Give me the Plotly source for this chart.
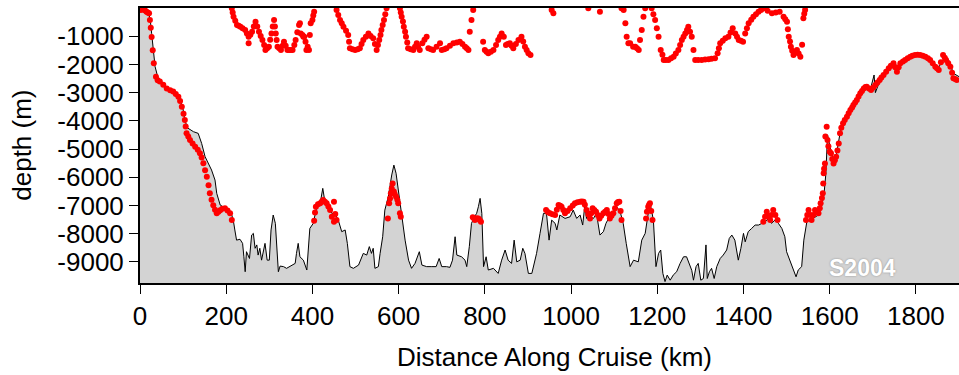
import plotly.graph_objects as go

# Bathymetry along cruise (km, m)
bathy_km = [0, 8, 15, 21, 24, 27, 31, 35, 43, 54, 66, 77, 89, 99, 104, 110, 116, 124, 135, 143,
            151, 158, 166, 174, 178, 186, 193, 205, 213, 217, 220, 224, 232, 238, 241, 244, 247, 254, 259, 263,
            267, 271, 274, 278, 282, 286, 290, 295, 300, 304, 309, 314, 317, 321, 325, 333, 340, 348, 360, 363,
            367, 371, 379, 387, 391, 394, 402, 406, 410, 418, 424, 429, 437, 445, 452, 460, 468, 476, 481, 487,
            495, 507, 514, 518, 526, 532, 537, 541, 545, 553, 557, 563, 568, 576, 584, 589, 594, 599, 607, 615,
            623, 630, 638, 648, 654, 665, 677, 687, 694, 700, 711, 719, 725, 731, 735, 746, 754, 758, 764, 769,
            776, 781, 785, 789, 793, 797, 803, 808, 820, 831, 839, 847, 854, 862, 868, 874, 882, 888, 893, 901,
            909, 920, 928, 936, 943, 949, 955, 963, 967, 974, 986, 998, 1005, 1013, 1021, 1027, 1032, 1036, 1044, 1052,
            1059, 1067, 1075, 1081, 1087, 1092, 1098, 1106, 1114, 1121, 1128, 1137, 1145, 1156, 1164, 1172, 1179, 1185, 1191, 1197,
            1203, 1208, 1213, 1218, 1223, 1230, 1237, 1245, 1253, 1261, 1268, 1274, 1280, 1284, 1290, 1295, 1301, 1307, 1313, 1316,
            1321, 1326, 1332, 1338, 1346, 1353, 1361, 1367, 1373, 1380, 1388, 1394, 1400, 1404, 1411, 1419, 1427, 1435, 1442, 1450,
            1458, 1465, 1473, 1481, 1489, 1496, 1500, 1508, 1516, 1522, 1527, 1535, 1540, 1547, 1554, 1566, 1574, 1581, 1587, 1591,
            1595, 1602, 1609, 1616, 1624, 1632, 1644, 1655, 1671, 1682, 1694, 1703, 1706, 1717, 1733, 1748, 1760, 1771, 1787, 1802,
            1818, 1833, 1849, 1863, 1876, 1887, 1900]
bathy_depth = [-80, -100, -130, -250, -450, -900, -1600, -2080, -2552, -2730, -2907, -3000, -3145, -3500, -3970, -4250, -4300, -4385, -4445, -4800,
               -5272, -5500, -5745, -6100, -6570, -6985, -7045, -7165, -7340, -7580, -7870, -8230, -8200, -8345, -8820, -9350, -8640, -8880, -8050, -7990,
               -8520, -8400, -8760, -8520, -8940, -8640, -8345, -8940, -8940, -7870, -7340, -7635, -8460, -9350, -9150, -9170, -9230, -9170, -9055, -8700,
               -8345, -8820, -8940, -9290, -8460, -7815, -7635, -7340, -7045, -6925, -6395, -6870, -6985, -7280, -7280, -7520, -7930, -7870, -8345, -9170,
               -9230, -9115, -8820, -8700, -8760, -8460, -8700, -8520, -9230, -9170, -8700, -8110, -7165, -6690, -5920, -5570, -5860, -6455, -7280, -8230,
               -8940, -9230, -9055, -8640, -9115, -9170, -9170, -9170, -8880, -9170, -9170, -9195, -8940, -8110, -8760, -8820, -8940, -9170, -8460, -7635,
               -7400, -7280, -7045, -6750, -7280, -9170, -8820, -9290, -9230, -9410, -8940, -8580, -8940, -9055, -8230, -9000, -8940, -8520, -8700, -9410,
               -9410, -8700, -7990, -7280, -7280, -8230, -7520, -7635, -7870, -7340, -7460, -7400, -7165, -7460, -7340, -7695, -6985, -7460, -7400, -7460,
               -7280, -8050, -7930, -7635, -7460, -7340, -7225, -7045, -7225, -7635, -8345, -9170, -8940, -9000, -8230, -7990, -7280, -7045, -7520, -9170,
               -8700, -8580, -9410, -9700, -9470, -9650, -9470, -9350, -9055, -8820, -8820, -9055, -9300, -9650, -9170, -9055, -9650, -9590, -8400, -9590,
               -9350, -9230, -9590, -9170, -8880, -8760, -8580, -8170, -8050, -8230, -8940, -8520, -7990, -8290, -7930, -7815, -7695, -7695, -7635, -7580,
               -7460, -7635, -7520, -7635, -7815, -8110, -8640, -8940, -9290, -9530, -9290, -9170, -8230, -7580, -7520, -7400, -7340, -7045, -6570, -5900,
               -4500, -5000, -5400, -5150, -4444, -3970, -3735, -3500, -3085, -2790, -2910, -2375, -3000, -2552, -2198, -1962, -2080, -1844, -1725, -1607,
               -1666, -1844, -2198, -1844, -1844, -2316, -2434]

# Deep red samples (near sea floor)
red_lo_km = [23, 25, 27, 29.5, 32, 37, 41, 46, 54, 62, 70, 77, 83, 89, 93, 97, 101, 104, 106, 108,
             112, 116, 122, 128, 134, 139, 143, 147, 151, 155, 159, 162, 166, 170, 174, 178, 182, 186, 191, 197,
             203, 209, 213,
             404, 406, 408, 413, 418, 422, 425, 429, 433, 437, 441, 445, 450, 450, 453, 456,
             575, 578, 580, 582, 584, 586, 589, 591, 594, 597, 599, 603, 605,
             772, 775, 777, 781, 785, 788, 791,
             942, 946, 951, 957, 963, 967, 971, 975, 978, 982, 986, 992, 998, 1004, 1009, 1015, 1021, 1025, 1029, 1032,
             1036, 1040, 1044, 1047, 1050, 1054, 1058, 1062, 1066, 1070, 1075, 1079, 1083, 1087, 1090, 1094, 1098, 1102, 1106, 1109,
             1112, 1115, 1117,
             1174, 1176, 1179, 1181, 1183, 1186, 1189,
             1446, 1450, 1454, 1458, 1462, 1465, 1469, 1474, 1479,
             1545, 1548, 1551, 1555, 1558, 1562, 1566, 1570, 1574, 1577, 1579, 1582, 1584, 1585, 1586, 1587, 1589, 1590,
             1593, 1595, 1597, 1600, 1603, 1606, 1609, 1612, 1615, 1618, 1621, 1624, 1627, 1631, 1635, 1640, 1644, 1648, 1652, 1655,
             1659, 1663, 1667, 1671, 1675, 1679, 1683, 1686, 1691, 1696, 1701, 1706, 1711, 1716, 1720, 1725, 1731, 1737, 1742, 1748,
             1752, 1756, 1760, 1764, 1770, 1775, 1781, 1787, 1792, 1798, 1804, 1810, 1816, 1822, 1828, 1833, 1839, 1845, 1849, 1853,
             1858, 1863, 1867, 1870, 1875, 1880, 1884, 1887, 1891, 1895]
red_lo_depth = [-425, -700, -1030, -1500, -1960, -2440, -2560, -2610, -2720, -2850, -2920, -2960, -3050, -3145, -3300, -3500, -3750, -3970, -4200, -4444,
                -4560, -4680, -4800, -4917, -5030, -5150, -5300, -5508, -5750, -5980, -6280, -6570, -6800, -6990, -7150, -7280, -7220, -7170, -7120, -7100,
                -7180, -7280, -7520,
                -7540, -7250, -7045, -6960, -6925, -6860, -6810, -6870, -6925, -7040, -7165, -7400, -6870, -7580, -7300, -7520,
                -7460, -6925, -6750, -6570, -6400, -6220, -6510, -6600, -6690, -6800, -6925, -7280, -7400,
                -7420, -7460, -7520, -7450, -7460, -7520, -7580,
                -7165, -7230, -7280, -7310, -7340, -7150, -6985, -7010, -7045, -7160, -7280, -7200, -7100, -7000, -6925, -6890, -6870, -6860, -6870, -6980,
                -7165, -7320, -7460, -7280, -7100, -7160, -7225, -7340, -7460, -7370, -7280, -7220, -7165, -7300, -7460, -7370, -7280, -7100, -6925, -6880,
                -6870, -7200, -7520,
                -7460, -7220, -7045, -6980, -6925, -7200, -7520,
                -7580, -7400, -7225, -7380, -7520, -7340, -7165, -7340, -7520,
                -7520, -7340, -7165, -7340, -7520, -7340, -7165, -7220, -7280, -7100, -6925, -6740, -6570, -6220, -5860, -5700, -5510, -4560,
                -4208, -4680, -4900, -5100, -5150, -5350, -5510, -5400, -5272, -5050, -4800, -4444, -4250, -4090, -3970, -3853, -3735, -3617, -3530, -3440,
                -3350, -3262, -3140, -3026, -2940, -2850, -2800, -2790, -2850, -2907, -2820, -2730, -2640, -2552, -2460, -2375, -2260, -2139, -2050, -1962,
                -2100, -2257, -2100, -1962, -1900, -1844, -1780, -1725, -1690, -1666, -1660, -1666, -1690, -1725, -1780, -1844, -1960, -2080, -2140, -2198,
                -1920, -1666, -1760, -1844, -1960, -2080, -2300, -2493, -2520, -2552]

# Shallow red samples
red_hi_km = [0, 4, 8, 12, 15, 18, 21,
             213, 215, 217, 221, 225, 229, 233, 238, 244, 248, 252, 252, 256, 260, 264, 268, 272, 276, 280, 284, 288, 291, 295,
             299, 302, 305, 308, 311, 313, 315, 317, 319, 323, 327, 331, 334, 338, 342, 346, 350, 354, 358, 361, 365, 369, 371, 373, 377,
             379, 381, 384, 386, 389, 392, 394, 396, 400, 402, 404,
             456, 460, 464, 468, 472, 478, 483, 485, 487, 493, 499, 505, 510, 514, 518, 524, 530, 535, 541, 545, 549, 552, 555, 558,
             560, 563, 566, 569, 572,
             603, 605, 607, 610, 612, 615, 617, 620, 622, 628, 634, 638, 642, 645, 649, 655, 660, 665, 669, 675, 680, 688, 696, 700,
             706, 711, 719, 727, 735, 742, 748, 754, 758, 762, 765, 769, 773,
             796, 800, 804, 808, 814, 820, 826, 831, 835, 839, 844, 849, 853, 858, 862, 866, 872, 878, 885, 889, 893, 897, 901, 906,
             955, 959, 1040, 1067,
             1117, 1122, 1126, 1129, 1133, 1137, 1144, 1149, 1153, 1157, 1160, 1164, 1168, 1172,
             1187, 1191, 1195, 1199, 1203, 1208, 1212, 1215, 1220, 1226, 1232, 1238, 1243, 1249, 1253, 1257, 1261, 1265, 1269, 1272,
             1276, 1280, 1284, 1288, 1295, 1303, 1311, 1319, 1326, 1334, 1340, 1343, 1346, 1352, 1358, 1365, 1370, 1375, 1381, 1385,
             1389, 1394, 1399, 1404, 1408, 1412, 1418, 1423, 1429, 1435, 1441, 1447, 1456, 1466, 1475, 1484, 1493, 1497, 1501, 1503,
             1505, 1508, 1510, 1513, 1516, 1520, 1524, 1528, 1532, 1536, 1539, 1541, 1543]
red_hi_depth = [-70, -60, -47, -90, -130, -160, -190,
                -12, -160, -307, -450, -600, -630, -662, -720, -780, -900, -1016, -1253, -950, -840, -660, -484, -660, -840, -990, -1135, -1310, -1490, -1430,
                -1370, -1130, -900, -660, -425, -660, -900, -1135, -1370, -1430, -1490, -1340, -1200, -1340, -1490, -1490, -1490, -1490, -1310, -1135, -860, -600, -543, -900, -960,
                -1016, -1016, -1200, -1490, -1370, -1490, -960, -543, -425, -270, -130,
                -70, -250, -425, -540, -662, -810, -957, -1200, -1430, -1460, -1490, -1460, -1430, -1280, -1135, -1020, -900, -990, -1075, -1280, -1490, -1310, -1135, -960,
                -780, -600, -425, -220, -12,
                -12, -160, -307, -480, -662, -840, -1016, -1220, -1430, -1460, -1490, -1370, -1253, -1370, -1490, -1250, -1130, -1016, -1430, -1460, -1490, -1370, -1253, -1490,
                -1460, -1430, -1340, -1253, -1220, -1194, -1280, -1370, -1430, -1490, -840, -425, -70,
                -1194, -1490, -1550, -1608, -1550, -1490, -1310, -1135, -1020, -900, -1016, -1312, -1280, -1253, -1340, -1430, -1280, -1135, -1016, -1190, -1370, -1490, -1608, -1666,
                -70, -190, -12, -130,
                -12, -70, -543, -1016, -1253, -1253, -1370, -1370, -1430, -1490, -1135, -780, -307, -12,
                -12, -220, -425, -720, -1016, -1490, -1660, -1844, -1844, -1844, -1780, -1725, -1610, -1490, -1310, -1135, -1016, -900, -780, -662,
                -840, -1016, -1490, -1844, -1844, -1844, -1830, -1820, -1800, -1785, -1608, -1430, -1253, -1160, -1075, -1016, -870, -720, -900, -1016,
                -1135, -1160, -1194, -900, -720, -543, -420, -307, -220, -130, -70, -12, -100, -190, -160, -130, -307, -400, -484, -750,
                -1016, -1190, -1370, -1520, -1666, -1580, -1490, -1610, -1725, -1300, -366, -200, -70]

x_ticks = [0, 200, 400, 600, 800, 1000, 1200, 1400, 1600, 1800]
y_ticks = [-1000, -2000, -3000, -4000, -5000, -6000, -7000, -8000, -9000]
y_tick_text = ["-1000", "-2000", "-3000", "-4000", "-5000", "-6000", "-7000", "-8000", "-9000"]

FONT = "Liberation Sans, Arial, sans-serif"

fig = go.Figure()
fig.add_trace(go.Scatter(x=[0, 1900], y=[-10000, -10000], mode="lines",
                         line=dict(width=0), hoverinfo="skip", showlegend=False))
fig.add_trace(go.Scatter(x=bathy_km, y=bathy_depth, mode="lines", fill="tonexty",
                         fillcolor="#d3d3d3", line=dict(color="black", width=1),
                         showlegend=False))
fig.add_trace(go.Scatter(x=red_lo_km, y=red_lo_depth, mode="markers",
                         marker=dict(color="#ff0000", size=6), showlegend=False))
fig.add_trace(go.Scatter(x=red_hi_km, y=red_hi_depth, mode="markers",
                         marker=dict(color="#ff0000", size=6), showlegend=False))

fig.update_layout(
    width=959, height=375,
    margin=dict(l=140, r=0, t=8, b=92),
    paper_bgcolor="white", plot_bgcolor="white",
    font=dict(family=FONT, size=26, color="black"),
    xaxis=dict(range=[0, 1900], tickvals=x_ticks, ticks="outside", ticklen=9,
               tickwidth=1, tickcolor="black", showgrid=False, zeroline=False,
               showline=True, linecolor="black", linewidth=2, mirror=True,
               tickfont=dict(size=26)),
    yaxis=dict(range=[-9750, 0], tickvals=y_ticks, ticktext=y_tick_text,
               ticks="outside", ticklen=9, tickwidth=1, tickcolor="black",
               showgrid=False, zeroline=False, showline=True, linecolor="black",
               linewidth=2, tickfont=dict(size=26)),
    annotations=[
        dict(text="Distance Along Cruise (km)", xref="paper", yref="paper",
             x=0.5067, y=-0.269, yanchor="middle", xanchor="center", showarrow=False,
             font=dict(size=26)),
        dict(text="depth (m)", xref="paper", yref="paper", x=-0.145, y=0.5,
             xanchor="center", yanchor="middle", textangle=-90, showarrow=False,
             font=dict(size=26)),
        dict(text="<b>S2004</b>", xref="x", yref="y", x=1677, y=-9750,
             xanchor="center", yanchor="bottom", showarrow=False,
             font=dict(size=23, color="white", shadow="0px 0px 2px #888")),
    ],
)

fig.write_html("out.html")
